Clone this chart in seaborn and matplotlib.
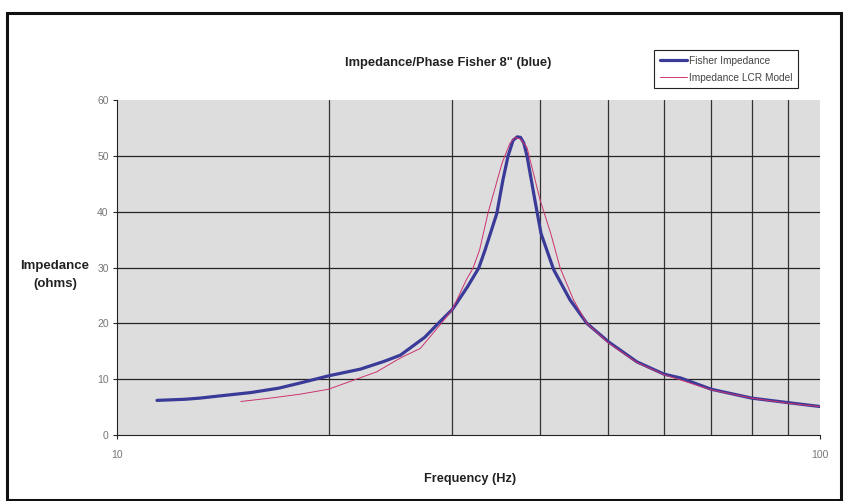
import matplotlib
matplotlib.use("Agg")
import matplotlib.pyplot as plt
from matplotlib.patches import Rectangle
from matplotlib.ticker import FixedLocator, NullFormatter
import seaborn as sns
import pandas as pd

sns.set_style("white")
plt.rcParams["font.family"] = ["Liberation Sans", "DejaVu Sans"]

# measured impedance (blue)
fisher_freq = [11.4, 12.5, 13.1, 14.0, 15.5, 17.0, 18.2, 20.0, 22.2, 24.0, 25.3,
               27.4, 28.8, 30.0, 31.5, 32.7, 33.4, 34.7, 35.4, 36.0, 36.6, 37.1,
               37.5, 37.9, 38.3, 39.3, 40.1, 41.8, 44.1, 46.6, 50.0, 54.9, 60.0,
               63.4, 70.0, 80.0, 90.0, 100.0]
fisher_ohms = [6.2, 6.4, 6.6, 7.0, 7.6, 8.4, 9.3, 10.6, 11.8, 13.2, 14.3,
               17.5, 20.3, 22.5, 26.5, 29.9, 33.2, 39.7, 45.7, 50.0, 52.8, 53.4,
               53.3, 52.3, 50.0, 42.1, 36.1, 29.6, 24.2, 20.0, 16.7, 13.1, 10.9,
               10.2, 8.2, 6.6, 5.8, 5.1]

# LCR model (pink)
lcr_freq = [15.0, 16.5, 18.2, 20.0, 21.9, 23.4, 25.3, 27.0, 28.8, 30.0, 31.4,
            32.1, 32.8, 33.7, 35.3, 36.2, 36.8, 37.5, 38.3, 40.0, 41.4, 42.7,
            44.6, 46.6, 50.0, 54.9, 60.0, 70.0, 80.0, 90.0, 100.0]
lcr_ohms = [6.0, 6.6, 7.3, 8.2, 10.0, 11.3, 13.8, 15.5, 19.7, 22.5, 27.8,
            29.9, 33.2, 39.7, 48.7, 52.2, 53.3, 53.0, 51.5, 42.0, 36.1, 29.9,
            24.2, 20.0, 16.5, 13.0, 10.8, 8.1, 6.6, 5.7, 5.1]

y_ticks = [0, 10, 20, 30, 40, 50, 60]
x_minor = [20, 30, 40, 50, 60, 70, 80, 90]

fisher = pd.DataFrame({"freq": fisher_freq, "ohms": fisher_ohms})
lcr = pd.DataFrame({"freq": lcr_freq, "ohms": lcr_ohms})

fig = plt.figure(figsize=(8.47, 5.01), dpi=100)
ax = fig.add_axes([117 / 847, 1 - 435 / 501, 703 / 847, 335 / 501])
ax.set_facecolor("#dddddd")

sns.lineplot(data=fisher, x="freq", y="ohms", ax=ax, color="#3a3a99",
             linewidth=2.3, estimator=None, label="Fisher Impedance")
sns.lineplot(data=lcr, x="freq", y="ohms", ax=ax, color="#cc3370",
             linewidth=0.7, estimator=None, label="Impedance LCR Model")

ax.set_xscale("log")
ax.set_xlim(10, 100)
ax.set_ylim(0, 60)
ax.set_xticks([10, 100])
ax.set_xticklabels(["10", "100"])
ax.xaxis.set_minor_locator(FixedLocator(x_minor))
ax.xaxis.set_minor_formatter(NullFormatter())
ax.set_yticks(y_ticks)
ax.set_xlabel("")
ax.set_ylabel("")

# excel-like grid: horizontal majors, vertical at minor decades
ax.grid(False)
ax.yaxis.grid(True, color="#222222", linewidth=0.9)
ax.xaxis.grid(True, which="minor", color="#333333", linewidth=0.9)
ax.get_ygridlines()[-1].set_visible(False)
ax.get_ygridlines()[0].set_visible(False)

for side in ["top", "right"]:
    ax.spines[side].set_visible(False)
for side in ["left", "bottom"]:
    ax.spines[side].set_color("#222222")
    ax.spines[side].set_linewidth(0.8)

ax.tick_params(axis="y", which="major", direction="out", length=3, width=0.8,
               pad=3, labelsize=7.5, labelcolor="#777777", left=True)
ax.tick_params(axis="x", which="major", direction="out", length=3, width=0.8,
               pad=8, labelsize=7.5, labelcolor="#777777", bottom=True)
ax.tick_params(axis="x", which="minor", length=0)

ax.get_legend().remove()
handles, labels = ax.get_legend_handles_labels()
leg = fig.legend(handles, labels, loc="upper left",
                 bbox_to_anchor=(654 / 847, 1 - 50 / 501),
                 fontsize=7.3, frameon=True, fancybox=False, framealpha=1,
                 edgecolor="#222222", handlelength=2.7, handletextpad=0.2,
                 borderpad=0.55, labelspacing=0.7, borderaxespad=0)
leg.get_frame().set_linewidth(0.8)
for t in leg.get_texts():
    t.set_color("#444444")

fig.text(448 / 847, 1 - 63 / 501, "Impedance/Phase Fisher 8\" (blue)",
         ha="center", va="center", fontsize=9.3, fontweight="bold",
         color="#222222")
fig.text(55 / 847, 1 - 275 / 501, "Impedance\n(ohms)", ha="center",
         va="center", fontsize=9.5, fontweight="bold", linespacing=1.6,
         color="#222222")
fig.text(470 / 847, 1 - 479 / 501, "Frequency (Hz)", ha="center",
         va="center", fontsize=9.2, fontweight="bold", color="#222222")

fig.patches.append(Rectangle((7 / 847, 1 / 501), 834 / 847, 487 / 501,
                             transform=fig.transFigure, fill=False,
                             edgecolor="#111111", linewidth=2.2))

fig.savefig("out.png", dpi=100)
